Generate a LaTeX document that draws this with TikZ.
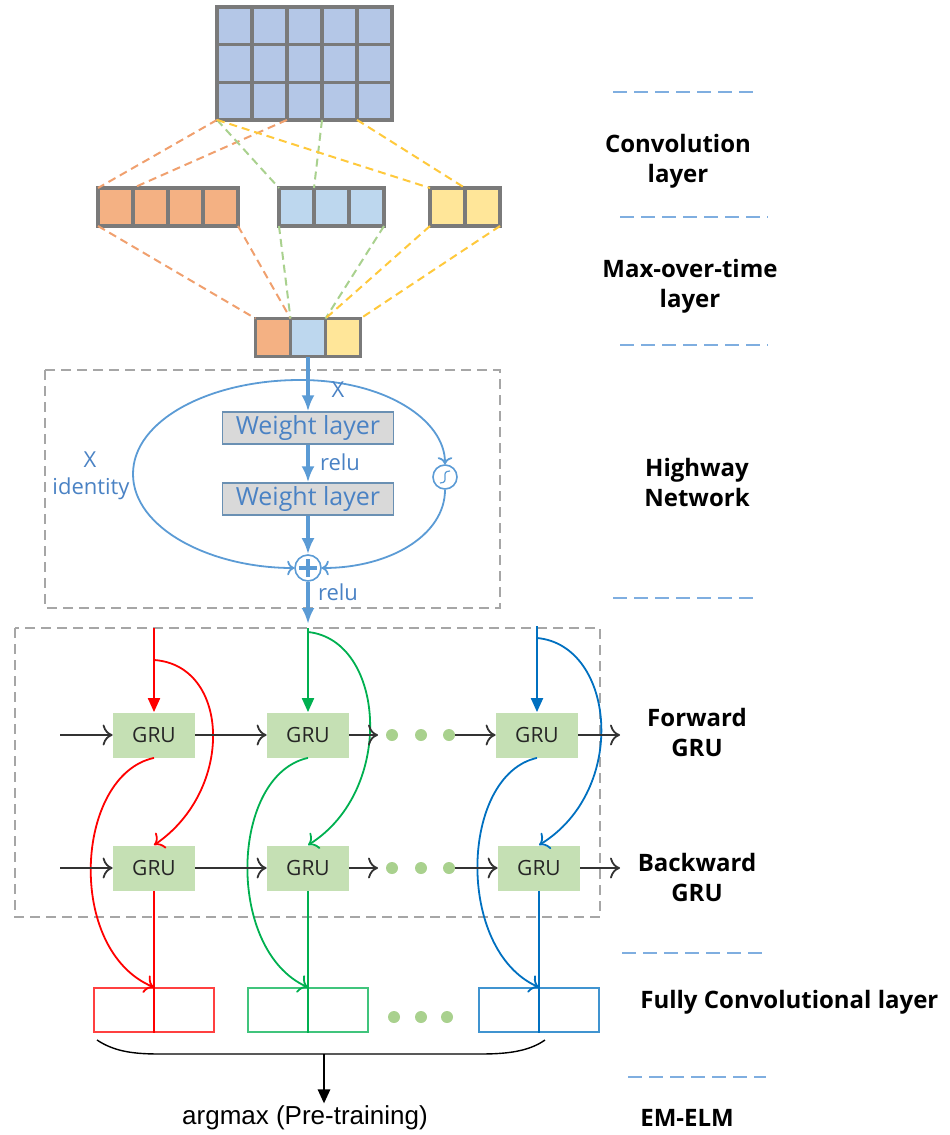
\documentclass[tikz,border=0pt]{standalone}
\usepackage{fontspec}
\usepackage{tikz}
\usetikzlibrary{arrows.meta}
\newfontfamily\labelfont{Open Sans}
\newfontfamily\argfont{Liberation Sans}
\definecolor{gridblue}{HTML}{B4C7E7}
\definecolor{cellorange}{HTML}{F4B183}
\definecolor{cellblue}{HTML}{BDD7EE}
\definecolor{cellyellow}{HTML}{FFE699}
\definecolor{cellgray}{HTML}{7A7A7A}
\definecolor{dashorange}{HTML}{F0A06E}
\definecolor{dashgreen}{HTML}{A9D18E}
\definecolor{dashyellow}{HTML}{FFC93C}
\definecolor{hwblue}{HTML}{5B9BD5}
\definecolor{hwtext}{HTML}{4A82C4}
\definecolor{grubox}{HTML}{C5E0B4}
\definecolor{grured}{HTML}{FF0000}
\definecolor{grugreen}{HTML}{00B050}
\definecolor{grublue}{HTML}{0070C0}
\definecolor{dotgreen}{HTML}{A9D18E}
\definecolor{boxgray}{HTML}{A6A6A6}
\definecolor{sepblue}{HTML}{7FAEE0}
\tikzset{
    cellnode/.style = {
        rectangle,
        draw=cellgray,
        line width=1.6pt,
        minimum width=17.5pt,
        minimum height=19pt,
        inner sep=0pt,
        outer sep=0pt
    },
    convline/.style = {
        dash pattern=on 4pt off 2.5pt,
        line width=1pt
    },
    dashbox/.style = {
        draw=boxgray,
        line width=1pt,
        dash pattern=on 5pt off 3pt
    },
    weightnode/.style = {
        rectangle,
        draw=hwblue!60!gray,
        fill=black!15,
        line width=0.7pt,
        minimum width=85.5pt,
        minimum height=16pt,
        inner sep=0pt,
        text=hwtext,
        font=\labelfont\fontsize{12.5}{14}\selectfont
    },
    plusnode/.style = {
        circle,
        draw=hwblue,
        line width=0.8pt,
        minimum size=13pt,
        inner sep=0pt
    },
    sigmanode/.style = {
        plusnode,
        minimum size=12pt
    },
    hwarrow/.style = {
        draw=hwblue,
        line width=1.8pt,
        -{Latex[length=8pt,width=6.5pt]}
    },
    hwcurve/.style = {
        draw=hwblue,
        line width=0.9pt,
        -{To[length=3.5pt]}
    },
    hwlabel/.style = {
        text=hwtext,
        inner sep=0pt,
        font=\labelfont\fontsize{11}{13}\selectfont
    },
    grunode/.style = {
        rectangle,
        fill=grubox,
        minimum width=41pt,
        minimum height=22.5pt,
        inner sep=0pt,
        text=black!85,
        font=\labelfont\fontsize{10.5}{12}\selectfont
    },
    fcnode/.style = {
        rectangle,
        line width=0.7pt,
        minimum width=60pt,
        minimum height=22pt,
        inner sep=0pt
    },
    flowarrow/.style = {
        draw=black!80,
        line width=0.9pt,
        -{To[length=5pt]}
    },
    inarrow/.style = {
        line width=1pt,
        -{Triangle[length=7pt,width=6pt]}
    },
    backarrow/.style = {
        line width=0.9pt,
        -{To[length=4.5pt]}
    },
    sidelabel/.style = {
        align=center,
        inner sep=0pt,
        font=\labelfont\bfseries\fontsize{12}{15}\selectfont
    },
    sepline/.style = {
        draw=sepblue,
        line width=1.3pt,
        dash pattern=on 7pt off 3.5pt
    }
}

\begin{document}
\begin{tikzpicture}[x=0.5pt, y=-0.5pt]
    \useasboundingbox (0,0) rectangle (949,1135);

    \foreach \r in {1,2,3} {
        \foreach \c in {1,...,5} {
            \node [cellnode, fill=gridblue, minimum height=18.8pt] (in-\r-\c) at ({199.5+35*\c}, {-12+37.7*\r}) {};
        }
    }
    \foreach \c in {1,...,4} {
        \node [cellnode, fill=cellorange] (ov-\c) at ({80.5+35*\c}, 207) {};
    }
    \foreach \c in {1,2,3} {
        \node [cellnode, fill=cellblue] (bv-\c) at ({261.5+35*\c}, 207) {};
    }
    \foreach \c in {1,2} {
        \node [cellnode, fill=cellyellow] (yv-\c) at ({412.5+35*\c}, 207) {};
    }
    \node [cellnode, fill=cellorange] (mv-1) at (273,337.5) {};
    \node [cellnode, fill=cellblue] (mv-2) at (308,337.5) {};
    \node [cellnode, fill=cellyellow] (mv-3) at (343,337.5) {};

    \draw [convline, dashorange] (in-3-1.south west) -- (ov-1.north west);
    \draw [convline, dashorange] (in-3-2.south east) -- (ov-2.north west);
    \draw [convline, dashgreen] (in-3-1.south west) -- (bv-1.north west);
    \draw [convline, dashgreen] (in-3-3.south east) -- (bv-2.north west);
    \draw [convline, dashyellow] (in-3-1.south west) -- (yv-1.north west);
    \draw [convline, dashyellow] (in-3-4.south east) -- (yv-2.north west);
    \draw [convline, dashorange] (ov-1.south west) -- (mv-1.north west);
    \draw [convline, dashorange] (ov-4.south east) -- (mv-1.north east);
    \draw [convline, dashgreen] (bv-1.south west) -- (mv-2.north west);
    \draw [convline, dashgreen] (bv-3.south east) -- (mv-2.north east);
    \draw [convline, dashyellow] (yv-1.south west) -- (mv-3.north west);
    \draw [convline, dashyellow] (yv-2.south east) -- (mv-3.north east);

    \draw [dashbox] (45,370) rectangle (500,608);
    \node [weightnode] (w-1) at (308,428) {Weight layer};
    \node [weightnode] (w-2) at (308,499) {Weight layer};
    \node [plusnode] (plus) at (308,568) {};
    \node [sigmanode] (sig) at (445,477) {};
    \coordinate (hwtop) at (300,380);
    \coordinate (hwout) at (308,624);
    \draw [hwarrow] (mv-2.south) -- (w-1.north);
    \draw [hwarrow] (w-1.south) -- (w-2.north);
    \draw [hwarrow] (w-2.south) -- (plus.north);
    \draw [hwarrow] (plus.south) -- (hwout);
    \draw [hwblue, line width=2.4pt] ([xshift=-4.5pt]plus.center) -- ([xshift=4.5pt]plus.center)
        ([yshift=-4.5pt]plus.center) -- ([yshift=4.5pt]plus.center);
    \draw [hwblue, line width=0.6pt] ([shift={(-2.5pt,-3pt)}]sig.center) .. controls ([shift={(3pt,-3pt)}]sig.center) and ([shift={(-3pt,3pt)}]sig.center) .. ([shift={(2.5pt,3pt)}]sig.center);
    \draw [hwcurve] (hwtop) .. controls (210,380) and (133,420) .. (133,474) .. controls (133,528) and (210,568) .. (plus.west);
    \draw [hwcurve] (hwtop) .. controls (385,380) and (445,420) .. (sig.north);
    \draw [hwcurve] (sig.south) .. controls (445,535) and (390,568) .. (plus.east);
    \node [hwlabel] (xtop) at (338,390) {X};
    \node [hwlabel] (relu-1) at (340,462) {relu};
    \node [hwlabel] (relu-2) at (338,592) {relu};
    \node [hwlabel] (xleft) at (90,460) {X};
    \node [hwlabel] (ident) at (91,489) {identity};

    \draw [dashbox] (15,628) rectangle (600,917);
    \node [grunode] (fw-1) at (154,735) {GRU};
    \node [grunode] (fw-2) at (308,735) {GRU};
    \node [grunode] (fw-3) at (537,735) {GRU};
    \node [grunode] (bw-1) at (154,868) {GRU};
    \node [grunode] (bw-2) at (308,868) {GRU};
    \node [grunode] (bw-3) at (539,868) {GRU};
    \node [fcnode, draw=grured!75] (fc-1) at (154,1010) {};
    \node [fcnode, draw=grugreen!75] (fc-2) at (308,1010) {};
    \node [fcnode, draw=grublue!75] (fc-3) at (539,1010) {};

    \coordinate (top-1) at (154,628);
    \coordinate (top-2) at (308,628);
    \coordinate (top-3) at (537,626);
    \coordinate (sp-1) at (154,660);
    \coordinate (sp-2) at (308,632);
    \coordinate (sp-3) at (537,638);
    \draw [inarrow, grured] (top-1) -- (fw-1.north);
    \draw [inarrow, grugreen] (top-2) -- (fw-2.north);
    \draw [inarrow, grublue] (top-3) -- (fw-3.north);
    \draw [backarrow, grured] (sp-1) .. controls (230,665) and (235,790) .. (bw-1.north);
    \draw [backarrow, grugreen] (sp-2) .. controls (385,640) and (396,790) .. (bw-2.north);
    \draw [backarrow, grublue] (sp-3) .. controls (615,645) and (629,790) .. (bw-3.north);
    \draw [backarrow, grured] (fw-1.south) .. controls (75,775) and (65,950) .. (fc-1.north);
    \draw [backarrow, grugreen] (fw-2.south) .. controls (230,775) and (225,950) .. (fc-2.north);
    \draw [backarrow, grublue] (fw-3.south) .. controls (460,775) and (455,950) .. (fc-3.north);
    \draw [grured, line width=0.9pt] (bw-1.south) -- (fc-1.south);
    \draw [grugreen, line width=0.9pt] (bw-2.south) -- (fc-2.south);
    \draw [grublue, line width=0.9pt] (bw-3.south) -- (fc-3.south);

    \coordinate (fin) at (60,735);
    \coordinate (fmid) at (378,735);
    \coordinate (fdots) at (449,735);
    \coordinate (fout) at (620,735);
    \coordinate (bin) at (60,868);
    \coordinate (bmid) at (378,868);
    \coordinate (bdots) at (449,868);
    \coordinate (bout) at (620,868);
    \draw [flowarrow] (fin) -- (fw-1.west);
    \draw [flowarrow] (fw-1.east) -- (fw-2.west);
    \draw [flowarrow] (fw-2.east) -- (fmid);
    \draw [flowarrow] (fdots) -- (fw-3.west);
    \draw [flowarrow] (fw-3.east) -- (fout);
    \draw [flowarrow] (bin) -- (bw-1.west);
    \draw [flowarrow] (bw-1.east) -- (bw-2.west);
    \draw [flowarrow] (bw-2.east) -- (bmid);
    \draw [flowarrow] (bdots) -- (bw-3.west);
    \draw [flowarrow] (bw-3.east) -- (bout);
    \foreach \x in {392,421,449} {
        \fill [dotgreen] (\x,735) circle (3pt);
        \fill [dotgreen] (\x,868) circle (3pt);
    }
    \foreach \x in {394,421,447} {
        \fill [dotgreen] (\x,1017) circle (3pt);
    }

    \node [font=\argfont\fontsize{13}{15}\selectfont, inner sep=1pt] (argtext) at (305,1118) {argmax (Pre-training)};
    \coordinate (br-l) at (97,1040);
    \coordinate (br-r) at (545,1040);
    \coordinate (br-m) at (324,1054);
    \draw [line width=0.7pt] (br-l) .. controls (115,1052) and (135,1054) .. (160,1054) -- (480,1054) .. controls (505,1054) and (528,1052) .. (br-r);
    \draw [line width=1.3pt, -{Triangle[length=7pt,width=6pt]}] (br-m) -- (br-m |- argtext.north);

    \node [sidelabel] (conv) at (678,161) {Convolution\\layer};
    \node [sidelabel] (maxt) at (690,286) {Max-over-time\\layer};
    \node [sidelabel] (hwy) at (697,482) {Highway\\Network};
    \node [sidelabel] (fwd) at (697,732) {Forward\\GRU};
    \node [sidelabel] (bwd) at (697,877) {Backward\\GRU};
    \node [sidelabel, anchor=west] (fcl) at (640,1002) {Fully Convolutional layer};
    \node [sidelabel, anchor=west] (em) at (640,1118) {EM-ELM};
    \draw [sepline] (613,92) -- (760,92);
    \draw [sepline] (620,217) -- (768,217);
    \draw [sepline] (620,345) -- (768,345);
    \draw [sepline] (613,598) -- (760,598);
    \draw [sepline] (622,953) -- (768,953);
    \draw [sepline] (628,1077) -- (766,1077);
\end{tikzpicture}
\end{document}
